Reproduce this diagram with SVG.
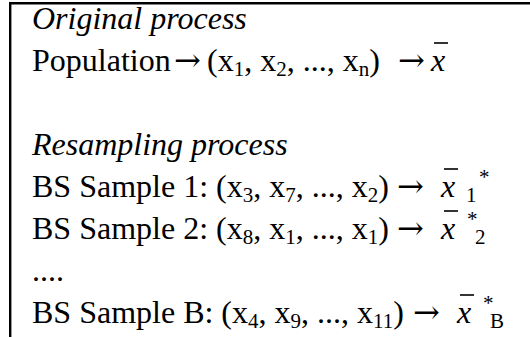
<svg xmlns="http://www.w3.org/2000/svg" width="530" height="337" viewBox="0 0 530 337">
<style>
text{font-family:"Liberation Serif","Times New Roman",serif;font-size:32px;fill:#000}
.it{font-style:italic}
.sub{font-size:21px}
.ar{font-family:"DejaVu Serif","DejaVu Sans",serif;font-size:32px}
.bar{stroke:#000;stroke-width:1.6;fill:none}
</style>
<rect width="530" height="337" fill="#fff"/>
<g id="frame">
<path d="M10.2 337 V3.2 H530" fill="none" stroke="#000" stroke-width="2.4"/>
</g>
<g id="original">
<text x="32" y="29" class="it">Original process</text>
<text x="32" y="71">Population<tspan class="ar" x="174">→</tspan><tspan x="207">(x</tspan><tspan class="sub" dy="5">1</tspan><tspan dy="-5">, x</tspan><tspan class="sub" dy="5">2</tspan><tspan dy="-5">, ..., x</tspan><tspan class="sub" dy="5">n</tspan><tspan dy="-5">)</tspan><tspan class="ar" x="398">→</tspan><tspan class="it" x="431">x</tspan></text>
<path class="bar" d="M434 43 H448"/>
</g>
<g id="resampling">
<text x="32" y="155" class="it">Resampling process</text>
<text x="32" y="197">BS Sample 1: (x<tspan class="sub" dy="5">3</tspan><tspan dy="-5">, x</tspan><tspan class="sub" dy="5">7</tspan><tspan dy="-5">, ..., x</tspan><tspan class="sub" dy="5">2</tspan><tspan dy="-5">)</tspan><tspan class="ar" x="397">→</tspan><tspan class="it" x="441">x</tspan><tspan class="sub" x="466" dy="5">1</tspan><tspan class="sub" x="479" dy="-18">*</tspan></text>
<path class="bar" d="M444 169 H458"/>
<text x="32" y="239">BS Sample 2: (x<tspan class="sub" dy="5">8</tspan><tspan dy="-5">, x</tspan><tspan class="sub" dy="5">1</tspan><tspan dy="-5">, ..., x</tspan><tspan class="sub" dy="5">1</tspan><tspan dy="-5">)</tspan><tspan class="ar" x="397">→</tspan><tspan class="it" x="441">x</tspan><tspan class="sub" x="467" dy="-13">*</tspan><tspan class="sub" x="475" dy="18">2</tspan></text>
<path class="bar" d="M444 211 H458"/>
<text x="32" y="281">....</text>
<text x="32" y="323">BS Sample B: (x<tspan class="sub" dy="5">4</tspan><tspan dy="-5">, x</tspan><tspan class="sub" dy="5">9</tspan><tspan dy="-5">, ..., x</tspan><tspan class="sub" dy="5">11</tspan><tspan dy="-5">)</tspan><tspan class="ar" x="413">→</tspan><tspan class="it" x="457">x</tspan><tspan class="sub" x="483" dy="-13">*</tspan><tspan class="sub" x="490" dy="18">B</tspan></text>
<path class="bar" d="M460 295 H474"/>
</g>
</svg>
